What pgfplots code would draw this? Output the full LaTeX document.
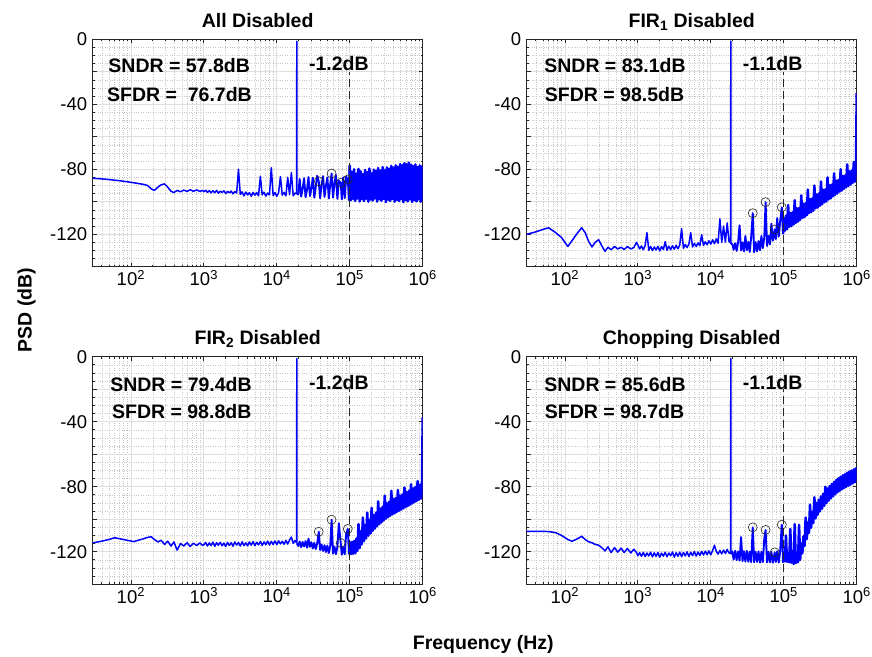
\documentclass[border=0pt]{standalone}
\usepackage{fontspec}
\setmainfont{Liberation Sans}
\usepackage{pgfplots}
\usepackage{pgfplotstable}
\pgfplotsset{compat=1.18}

% PSD of the four configurations (f in Hz, PSD in dB)
\pgfplotstableread{
f        ad      fa      fb      ch
30       -85.5   -120.0  -114.6  -107.5
40       -85.9   -118.5  -113.5  -107.5
50       -86.3   -117.0  -112.5  -107.5
60       -86.7   -116.0  -111.4  -107.6
75       -87.2   -119.0  -112.3  -108.3
90       -87.7   -122.0  -113.0  -110.0
110      -88.3   -127.5  -113.8  -112.5
125      -88.7   -124.0  -113.0  -113.6
150      -89.3   -119.0  -112.0  -112.0
170      -90.0   -116.0  -111.2  -110.5
190      -92.0   -119.0  -110.8  -112.5
210      -93.0   -124.0  -112.5  -113.8
235      -91.0   -127.8  -114.0  -114.5
260      -89.5   -125.0  -113.0  -115.5
290      -89.0   -123.3  -115.5  -116.0
320      -91.0   -127.0  -113.5  -117.5
355      -93.5   -130.5  -116.5  -119.5
390      -94.3   -128.0  -114.0  -117.0
430      -93.0   -129.5  -119.0  -120.5
480      -93.8   -127.5  -115.0  -117.5
530      -92.8   -129.0  -116.5  -120.3
590      -93.6   -128.0  -114.5  -117.8
650      -92.6   -129.3  -116.8  -120.5
720      -93.5   -127.6  -114.8  -118.0
800      -92.7   -129.0  -116.2  -120.8
880      -93.6   -128.2  -114.6  -118.5
960      -93.0   -125.0  -116.0  -120.5
1000     -93.8   -126.5  -115.8  -122.5
1059     -92.9   -129.0  -114.3  -120.6
1122     -94.2   -127.2  -116.5  -122.8
1189     -93.1   -129.5  -114.6  -120.4
1259     -94.5   -127.0  -116.2  -123.0
1334     -93.2   -119.0  -114.1  -120.8
1413     -94.4   -129.8  -116.7  -122.6
1496     -93.0   -127.5  -114.5  -120.3
1585     -94.7   -130.0  -116.0  -123.2
1679     -93.5   -127.8  -114.2  -120.7
1778     -94.2   -129.6  -116.4  -122.9
1884     -93.3   -127.4  -114.7  -120.5
1995     -94.9   -130.2  -116.8  -123.4
2113     -93.6   -127.6  -114.3  -120.9
2239     -94.5   -129.4  -116.1  -122.7
2371     -93.4   -124.5  -114.5  -120.4
2512     -95.1   -129.8  -116.6  -123.1
2661     -93.7   -127.3  -114.0  -120.8
2818     -94.6   -129.5  -115.9  -122.5
2985     -80.0   -127.0  -114.4  -120.2
3162     -95.5   -129.2  -116.5  -123.3
3350     -93.9   -126.8  -113.9  -120.6
3548     -96.4   -128.9  -116.2  -122.8
3758     -94.0   -126.5  -114.6  -120.3
3981     -95.8   -116.4  -116.4  -123.0
4217     -94.3   -128.6  -114.0  -120.5
4467     -96.6   -126.3  -116.0  -122.6
4732     -94.2   -128.2  -113.8  -120.1
5012     -95.9   -126.0  -116.3  -122.9
5309     -94.4   -119.0  -114.2  -120.4
5623     -96.3   -127.8  -115.8  -122.4
5957     -84.3   -125.6  -113.6  -119.9
6310     -95.7   -127.5  -116.1  -122.7
6683     -94.1   -125.3  -114.0  -120.2
7079     -96.5   -127.0  -115.7  -122.3
7499     -94.6   -120.3  -113.5  -119.8
7943     -95.8   -126.8  -115.9  -122.0
8414     -79.0   -124.6  -113.7  -119.6
8913     -96.2   -126.4  -115.5  -121.8
9441     -94.3   -124.0  -113.4  -119.5
10000    -96.6   -126.0  -115.6  -121.9
10593    -94.5   -123.4  -113.3  -119.3
11220    -84.5   -125.8  -115.2  -116.0
11885    -95.9   -122.8  -113.6  -119.7
12589    -94.2   -125.5  -115.4  -121.5
13335    -96.4   -110.5  -113.0  -119.2
14125    -85.0   -125.0  -115.3  -121.3
14962    -95.6   -115.0  -112.8  -119.0
15849    -82.0   -124.8  -111.0  -121.1
16788    -96.3   -113.0  -114.8  -118.6
17783    -94.6   -124.5  -113.2  -120.8
18700    -95.0   -125.0  -114.5  -121.0
18800    -1.2    -1.1    -1.2    -1.1
18900    -95.2   -126.0  -115.0  -121.5
19700    -95.5   -126.0  -116.5  -119.8
20600    -86.0   -129.5  -113.8  -124.8
21600    -96.8   -125.5  -117.2  -119.4
22600    -92.0   -130.2  -114.0  -125.2
23700    -85.5   -124.8  -116.8  -119.9
24800    -97.2   -114.5  -113.5  -125.5
26000    -92.5   -130.0  -117.5  -111.0
27200    -84.8   -125.0  -112.0  -125.8
28500    -96.5   -130.5  -117.0  -119.7
29800    -91.5   -121.0  -114.2  -126.0
31200    -85.2   -129.8  -118.0  -119.5
32700    -97.5   -124.6  -114.5  -126.2
34200    -90.8   -130.8  -118.4  -119.9
35800    -84.0   -121.5  -115.0  -126.4
37600    -87.4   -107.0  -107.7  -105.0
39300    -97.8   -131.0  -119.0  -126.5
41100    -89.5   -124.8  -115.6  -120.0
43100    -84.2   -130.5  -119.5  -126.3
45100    -97.0   -124.2  -116.0  -119.8
47200    -90.0   -129.8  -120.2  -126.7
49400    -85.0   -121.0  -116.2  -120.1
51700    -98.0   -128.5  -120.8  -126.4
54100    -89.0   -122.0  -116.5  -112.0
56400    -82.6   -100.2  -100.3  -106.6
59000    -97.5   -127.2  -121.2  -126.6
61800    -88.5   -121.0  -116.8  -120.0
64700    -83.5   -126.2  -121.5  -126.5
67700    -98.2   -113.5  -117.0  -120.2
70900    -87.0   -124.0  -102.5  -126.8
75200    -88.4   -117.0  -114.6  -120.4
77800    -98.5   -123.0  -121.8  -126.3
81400    -85.0   -110.0  -117.2  -119.8
85300    -97.8   -121.5  -121.6  -126.7
89300    -84.5   -112.0  -109.0  -119.5
94000    -86.3   -103.4  -106.0  -103.4
97800    -99.0   -119.6  -121.4  -126.4
1.000e5  -77.8   -110.0  -114.0  -120.5
1.035e5  -99.0   -117.8  -121.5  -126.0
1.072e5  -81.5   -108.6  -114.0  -110.0
1.109e5  -98.2   -116.9  -121.3  -126.3
1.148e5  -80.0   -102.0  -113.5  -120.8
1.189e5  -99.5   -115.4  -121.0  -126.5
1.230e5  -82.6   -106.8  -112.0  -106.0
1.274e5  -98.0   -115.0  -119.5  -126.8
1.318e5  -79.8   -106.5  -103.0  -121.0
1.365e5  -99.8   -113.9  -117.8  -127.5
1.413e5  -81.2   -99.0   -107.5  -103.0
1.462e5  -98.4   -113.0  -115.5  -127.0
1.514e5  -83.0   -104.0  -99.0   -120.5
1.567e5  -99.6   -112.2  -113.5  -126.5
1.622e5  -80.4   -103.8  -103.5  -103.5
1.679e5  -98.1   -111.2  -111.8  -125.0
1.738e5  -81.8   -96.0   -96.0   -115.0
1.799e5  -100.0  -110.0  -110.2  -121.0
1.862e5  -79.5   -101.2  -100.5  -110.5
1.928e5  -98.6   -109.4  -108.8  -116.5
1.995e5  -82.4   -100.8  -93.0   -99.0
2.065e5  -99.3   -108.3  -107.2  -112.2
2.138e5  -80.2   -92.5   -97.5   -102.0
2.213e5  -98.0   -107.0  -105.8  -108.5
2.291e5  -81.0   -98.3   -96.0   -91.0
2.371e5  -99.9   -106.4  -104.4  -105.2
2.455e5  -79.2   -97.9   -89.0   -95.5
2.541e5  -98.5   -105.5  -103.1  -102.3
2.630e5  -80.8   -90.0   -93.5   -86.5
2.723e5  -99.4   -104.0  -101.9  -99.5
2.818e5  -78.6   -95.5   -92.3   -90.0
2.917e5  -98.2   -103.6  -100.8  -97.3
3.020e5  -80.5   -95.0   -85.5   -88.0
3.126e5  -100.2  -102.5  -99.7   -95.3
3.236e5  -78.8   -87.5   -90.2   -86.0
3.350e5  -98.7   -101.6  -98.8   -93.5
3.467e5  -79.6   -92.6   -89.3   -84.3
3.589e5  -99.5   -100.4  -97.9   -91.8
3.715e5  -77.9   -92.3   -82.5   -80.0
3.846e5  -98.3   -99.8   -97.1   -90.1
3.981e5  -79.0   -85.0   -87.7   -81.0
4.121e5  -100.0  -98.6   -96.4   -88.6
4.266e5  -77.6   -89.8   -87.0   -79.5
4.416e5  -98.8   -97.9   -95.6   -87.2
4.571e5  -78.4   -89.4   -82.0   -78.2
4.732e5  -99.6   -96.6   -94.9   -85.9
4.898e5  -76.8   -82.5   -85.5   -77.0
5.070e5  -98.4   -95.8   -94.1   -84.7
5.248e5  -77.5   -87.0   -84.8   -75.8
5.433e5  -100.3  -94.9   -93.4   -83.6
5.623e5  -76.2   -86.6   -80.5   -74.8
5.821e5  -98.9   -93.7   -92.6   -82.6
6.026e5  -76.9   -80.0   -83.3   -73.8
6.237e5  -99.7   -93.1   -91.9   -81.7
6.457e5  -75.8   -84.1   -82.5   -73.0
6.683e5  -98.5   -92.0   -91.1   -80.9
6.918e5  -77.2   -83.7   -78.5   -72.2
7.161e5  -100.1  -91.2   -90.4   -80.1
7.413e5  -78.0   -77.0   -81.0   -71.4
7.674e5  -99.0   -90.3   -89.6   -79.4
7.943e5  -77.0   -81.3   -80.2   -70.7
8.222e5  -99.8   -89.4   -88.8   -78.7
8.511e5  -78.5   -80.8   -76.5   -70.0
8.810e5  -98.6   -88.4   -88.1   -78.0
9.120e5  -77.6   -75.5   -78.8   -69.3
9.441e5  -100.0  -87.6   -87.4   -77.3
9.772e5  -78.2   -78.5   -78.0   -68.6
1.000e6  -99.2   -33.0   -37.3   -76.5
}\psdtab

\newcommand{\bigbf}{\bfseries\fontsize{19.5}{22}\selectfont}

% the spectrum, drawn in three pieces so that the dense high-frequency part fills in
\newcommand{\spectrum}[1]{%
  \addplot[blue, line width=1.5pt, line join=round,
    skip coords between index={81}{185}] table[x=f, y=#1] {\psdtab};
  \addplot[blue, line width=1.9pt, line join=round,
    skip coords between index={0}{80}, skip coords between index={118}{185}] table[x=f, y=#1] {\psdtab};
  \addplot[blue, line width=2.5pt, line join=round,
    skip coords between index={0}{116}] table[x=f, y=#1] {\psdtab};
}

\pgfplotsset{
  every axis title/.style={at={(0.5,1)}, anchor=base, yshift=12pt, font=\bigbf},
}

\begin{document}
\begin{tikzpicture}[x=1pt,y=1pt]
\useasboundingbox (0,0) rectangle (872,656);
\pgfplotsset{
  every axis/.append style={
    scale only axis, width=330pt, height=227.5pt,
    xmin=30, xmax=1e6, ymin=-140, ymax=0,
    xtick={1e2,1e3,1e4,1e5,1e6},
    xticklabels={10\textsuperscript{2},10\textsuperscript{3},10\textsuperscript{4},10\textsuperscript{5},10\textsuperscript{6}},
    minor xtick={40,50,60,70,80,90,200,300,400,500,600,700,800,900,
      2000,3000,4000,5000,6000,7000,8000,9000,
      2e4,3e4,4e4,5e4,6e4,7e4,8e4,9e4,2e5,3e5,4e5,5e5,6e5,7e5,8e5,9e5},
    ytick={-140,-120,-100,-80,-60,-40,-20,0},
    yticklabels={,-120,,-80,,-40,,0},
    minor ytick={-135,-130,-125,-115,-110,-105,-95,-90,-85,-75,-70,-65,
      -55,-50,-45,-35,-30,-25,-15,-10,-5},
    grid=both,
    major grid style={black!13, line width=0.7pt},
    minor grid style={black!22, dotted, line width=0.6pt},
    tick align=inside, major tick length=4pt, minor tick length=2pt,
    axis line style={black!85, line width=0.8pt},
    tick style={black!85, line width=0.7pt},
    tick label style={font=\fontsize{18.5}{20}\selectfont},
    yticklabel style={xshift=-2pt},
  },
}

\begin{semilogxaxis}[at={(92.7pt,389.2pt)}, anchor=south west, title={All Disabled}]
\spectrum{ad}
\addplot[black!85, dash pattern=on 8pt off 4pt, line width=0.8pt] coordinates {(1e5,-140) (1e5,-20)};
\addplot[only marks, mark=o, mark size=4.5pt, black!85, mark options={line width=0.6pt}] coordinates {(37600,-87.4) (56400,-82.6) (75200,-88.4) (94000,-86.3)};
\node[anchor=west, inner sep=0, font=\bigbf] at (axis cs:49,-16) {SNDR = 57.8dB};
\node[anchor=west, inner sep=0, font=\bigbf] at (axis cs:47,-33.7) {SFDR = \ 76.7dB};
\node[anchor=west, inner sep=0, font=\bigbf] at (axis cs:27500,-15) {-1.2dB};
\end{semilogxaxis}

\begin{semilogxaxis}[at={(526.7pt,389.2pt)}, anchor=south west, title={FIR\textsubscript{1} Disabled}]
\spectrum{fa}
\addplot[black!85, dash pattern=on 8pt off 4pt, line width=0.8pt] coordinates {(1e5,-140) (1e5,-20)};
\addplot[only marks, mark=o, mark size=4.5pt, black!85, mark options={line width=0.6pt}] coordinates {(37600,-107) (56400,-100.2) (75200,-117) (94000,-103.4)};
\node[anchor=west, inner sep=0, font=\bigbf] at (axis cs:52,-16) {SNDR = 83.1dB};
\node[anchor=west, inner sep=0, font=\bigbf] at (axis cs:53,-33.7) {SFDR = 98.5dB};
\node[anchor=west, inner sep=0, font=\bigbf] at (axis cs:27300,-15) {-1.1dB};
\end{semilogxaxis}

\begin{semilogxaxis}[at={(92.7pt,71.8pt)}, anchor=south west, title={FIR\textsubscript{2} Disabled}]
\spectrum{fb}
\addplot[black!85, dash pattern=on 8pt off 4pt, line width=0.8pt] coordinates {(1e5,-140) (1e5,-20)};
\addplot[only marks, mark=o, mark size=4.5pt, black!85, mark options={line width=0.6pt}] coordinates {(37600,-107.7) (56400,-100.3) (75200,-114.6) (94000,-106)};
\node[anchor=west, inner sep=0, font=\bigbf] at (axis cs:52,-17) {SNDR = 79.4dB};
\node[anchor=west, inner sep=0, font=\bigbf] at (axis cs:55,-33.8) {SFDR = 98.8dB};
\node[anchor=west, inner sep=0, font=\bigbf] at (axis cs:27500,-16) {-1.2dB};
\end{semilogxaxis}

\begin{semilogxaxis}[at={(526.7pt,71.8pt)}, anchor=south west, title={Chopping Disabled}]
\spectrum{ch}
\addplot[black!85, dash pattern=on 8pt off 4pt, line width=0.8pt] coordinates {(1e5,-140) (1e5,-20)};
\addplot[only marks, mark=o, mark size=4.5pt, black!85, mark options={line width=0.6pt}] coordinates {(37600,-105) (56400,-106.6) (75200,-120.4) (94000,-103.4)};
\node[anchor=west, inner sep=0, font=\bigbf] at (axis cs:52,-17) {SNDR = 85.6dB};
\node[anchor=west, inner sep=0, font=\bigbf] at (axis cs:53,-33.8) {SFDR = 98.7dB};
\node[anchor=west, inner sep=0, font=\bigbf] at (axis cs:27300,-16) {-1.1dB};
\end{semilogxaxis}

\node[rotate=90, anchor=base, font=\bigbf] at (31.5,346) {PSD (dB)};
\node[anchor=base, font=\bigbf] at (483.3,6.7) {Frequency (Hz)};
\end{tikzpicture}
\end{document}
